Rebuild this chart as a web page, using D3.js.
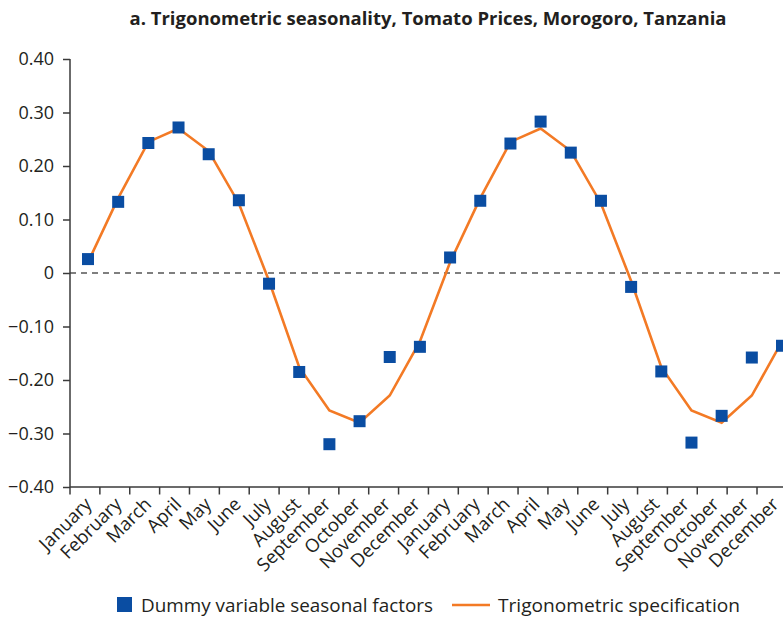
<!DOCTYPE html>
<html><head><meta charset="utf-8">
<script src="https://cdn.jsdelivr.net/npm/d3@7"></script>
<style>
html,body{margin:0;padding:0;background:#fff;}
svg{display:block;font-family:"Open Sans",sans-serif;}
</style></head>
<body>
<svg id="chart" width="783" height="629"></svg>
<script>
const title = "a. Trigonometric seasonality, Tomato Prices, Morogoro, Tanzania";
const months = ["January","February","March","April","May","June","July","August","September","October","November","December"];
const categories = months.concat(months);
const dummyFactors = [0.026,0.133,0.243,0.272,0.222,0.136,-0.020,-0.185,-0.320,-0.277,-0.157,-0.138,
                      0.029,0.135,0.242,0.283,0.225,0.135,-0.026,-0.184,-0.317,-0.267,-0.158,-0.136];
const trigSpec = [0.020,0.140,0.245,0.270,0.228,0.130,-0.015,-0.176,-0.257,-0.280,-0.229,-0.128,
                  0.020,0.140,0.245,0.270,0.228,0.130,-0.015,-0.176,-0.257,-0.280,-0.229,-0.128];
const yTickValues = [0.40,0.30,0.20,0.10,0,-0.10,-0.20,-0.30,-0.40];
const yTickLabels = ["0.40","0.30","0.20","0.10","0","\u22120.10","\u22120.20","\u22120.30","\u22120.40"];
const legendLabels = ["Dummy variable seasonal factors","Trigonometric specification"];

const svg = d3.select("#chart");
const ids = categories.map((c,i)=>i);

const y = d3.scaleLinear().domain([-0.40,0.40]).range([487,59]);
const xBand = d3.scaleBand().domain(ids).range([70,70+24*29.87]).paddingInner(0).paddingOuter(0);
const xPt = d3.scalePoint().domain(ids).range([88,782]);

const axisColor = "#3a3a3a";
const blue = "#0a4da2";
const orange = "#f37a25";

// title
svg.append("text").attr("x",428).attr("y",25).attr("text-anchor","middle")
  .attr("font-weight","700").attr("font-size",18).attr("fill","#231f20")
  .attr("textLength",597).attr("lengthAdjust","spacingAndGlyphs").text(title);

// zero dashed line
svg.append("line").attr("x1",70).attr("x2",783).attr("y1",y(0)).attr("y2",y(0))
  .attr("stroke","#555").attr("stroke-width",1.5).attr("stroke-dasharray","6,5");

// y axis
const yAxis = d3.axisLeft(y).tickValues(yTickValues).tickSize(7).tickPadding(9)
  .tickFormat((d,i)=>yTickLabels[i]);
const gy = svg.append("g").attr("transform","translate(70,0)").call(yAxis);
gy.select(".domain").attr("stroke",axisColor).attr("stroke-width",1.5).attr("d","M0,59V487");
gy.selectAll(".tick line").attr("stroke",axisColor).attr("stroke-width",1.5);
gy.selectAll(".tick text").attr("font-size",18).attr("fill","#231f20").attr("font-family","Open Sans");

// x axis
const gx = svg.append("g").attr("transform","translate(0,487)");
gx.append("line").attr("x1",70).attr("x2",790).attr("y1",0).attr("y2",0)
  .attr("stroke",axisColor).attr("stroke-width",1.5);
const edges = ids.map(i=>xBand(i)).concat([xBand(23)+xBand.bandwidth()]);
gx.selectAll("line.tk").data(edges).enter().append("line").attr("class","tk")
  .attr("x1",d=>d).attr("x2",d=>d).attr("y1",0).attr("y2",7.5)
  .attr("stroke",axisColor).attr("stroke-width",1.5);
gx.selectAll("text.lbl").data(ids).enter().append("text").attr("class","lbl")
  .attr("transform",d=>`translate(${xBand(d)+xBand.bandwidth()/2-1.5},9) rotate(-45)`)
  .attr("text-anchor","end").attr("dy","0.72em").attr("font-size",18.5)
  .attr("fill","#231f20").text(d=>categories[d]);

// trig line
const line = d3.line().x((d,i)=>xPt(i)).y(d=>y(d));
svg.append("path").datum(trigSpec).attr("d",line).attr("fill","none")
  .attr("stroke",orange).attr("stroke-width",2.6).attr("stroke-linejoin","miter");

// dummy squares
const s = 12;
svg.selectAll("rect.pt").data(dummyFactors).enter().append("rect").attr("class","pt")
  .attr("x",(d,i)=>xPt(i)-s/2).attr("y",d=>y(d)-s/2).attr("width",s).attr("height",s)
  .attr("fill",blue);

// legend
const lg = svg.append("g");
lg.append("rect").attr("x",117).attr("y",597).attr("width",15).attr("height",15).attr("fill",blue);
lg.append("text").attr("x",141).attr("y",612).attr("font-size",18).attr("fill","#231f20")
  .attr("textLength",292).attr("lengthAdjust","spacingAndGlyphs").text(legendLabels[0]);
lg.append("line").attr("x1",452).attr("x2",490).attr("y1",605).attr("y2",605)
  .attr("stroke",orange).attr("stroke-width",2.6);
lg.append("text").attr("x",498).attr("y",612).attr("font-size",18).attr("fill","#231f20")
  .attr("textLength",242).attr("lengthAdjust","spacingAndGlyphs").text(legendLabels[1]);
</script>
</body></html>
